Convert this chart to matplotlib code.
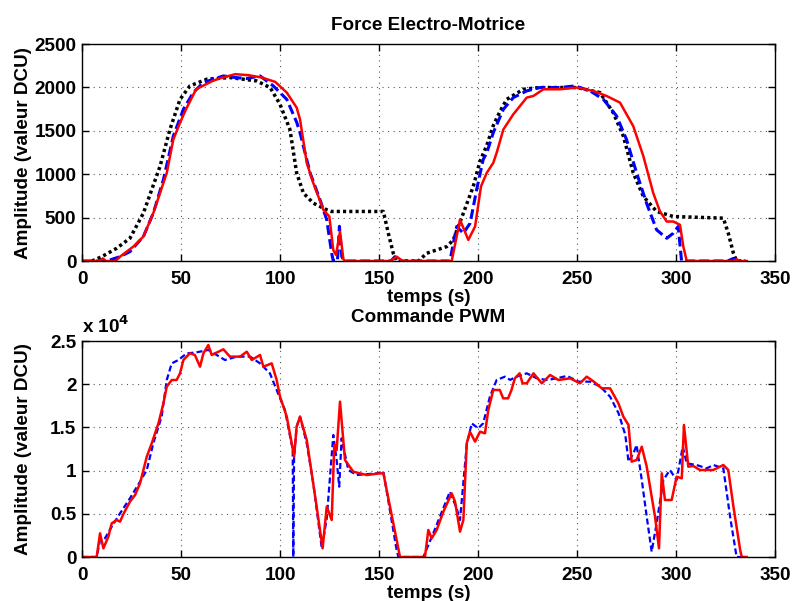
import matplotlib
matplotlib.use("Agg")
import matplotlib.pyplot as plt
from matplotlib.ticker import FuncFormatter

# --- Force electro-motrice (top) ---
fem_ref_t = [5, 10, 17.5, 24.2, 31, 35.2, 39.4, 44.4, 49.5, 54.5, 63, 74.7, 88.2, 95,
             100, 105, 108.4, 111.8, 116.8, 123.6, 126, 152.2, 154.7, 157.2, 159,
             170, 174, 184.2, 187.5, 192.6, 197.6, 201, 204.4, 207.7, 211, 214.5,
             222.9, 230.9, 249.8, 261.6, 268.3, 273.4, 278.4, 283.5, 290.2, 298.6,
             323.9, 326.4, 329, 330.6, 335]
fem_ref_y = [0, 50, 147, 262, 552, 822, 1091, 1516, 1863, 2018, 2095, 2114, 2075, 1999,
             1805, 1516, 1015, 783, 667, 590, 571, 571, 320, 89, 0,
             0, 89, 166, 243, 552, 860, 1150, 1330, 1560, 1720, 1863,
             1979, 1999, 1999, 1941, 1709, 1439, 1015, 744, 571, 513,
             494, 320, 89, 0, 0]

fem_est_t = [0, 12.5, 19.2, 24.2, 31, 36, 41.1, 46.1, 51.2, 56.2, 61.3, 71.4, 77, 83.2,
             89.9, 96.6, 103.4, 108.4, 110.1, 115.2, 120.2, 123.6, 126.1, 126.9,
             129, 130, 131.2, 132.5, 156, 158, 160, 185.8, 189.2, 192.6, 196, 199.3,
             202.6, 204.4, 207.7, 212.8, 217.8, 224.6, 231.3, 241.4, 249, 256.6,
             263.3, 270, 275, 280.1, 285.1, 290.2, 295.3, 298.6, 301.1, 302.8,
             326, 329, 331, 333]
fem_est_y = [0, 0, 50, 108, 282, 552, 937, 1439, 1748, 1941, 2057, 2133, 2115, 2103,
             2133, 2018, 1863, 1600, 1478, 1015, 706, 475, 89, 0,
             0, 400, 50, 0, 0, 50, 0, 0, 397, 320, 436, 822,
             1169, 1246, 1478, 1748, 1883, 1960, 1999, 1999, 2018, 1960,
             1863, 1670, 1400, 1015, 667, 359, 262, 320, 397, 0,
             0, 30, 0, 0]

fem_mes_t = [0, 9, 10.5, 12, 17, 19.2, 25.9, 31, 36, 42.8, 46.1, 49.5, 52.5, 57.6, 61,
             66, 69.3, 77.4, 84.2, 90.9, 97.6, 103.4, 108.4, 110.1, 113.5, 116.8,
             121.9, 124.9, 126.9, 128.3, 130.3, 132, 133, 155.6, 158.9, 162, 186.7,
             189.2, 190.9, 195.1, 198.5, 201.5, 204.4, 207.7, 209.4, 212.8, 217.8,
             224.6, 228, 233, 241.4, 249.8, 258.2, 264.9, 271.7, 278.4, 283.5,
             288.5, 291.9, 295.3, 298.6, 302, 303.7, 305.4, 329, 330.6, 332, 335.7]
fem_mes_y = [0, 0, 30, 0, 0, 50, 166, 282, 552, 1015, 1400, 1593, 1748, 1979, 2018,
             2075, 2103, 2153, 2141, 2114, 2064, 1941, 1767, 1632, 1131, 899,
             590, 513, 127, 69, 339, 20, 0, 0, 50, 0, 0,
             282, 475, 243, 397, 860, 1015, 1131, 1246, 1516, 1690,
             1883, 1902, 1979, 1979, 1999, 1960, 1902, 1825, 1554, 1208,
             783, 571, 455, 455, 417, 166, 0, 0, 20, 0, 0]

# --- Commande PWM (bottom) ---
pwm_est_t = [0, 7.4, 9.1, 11.6, 15, 19.2, 24.2, 29.3, 32.7, 36, 40.2, 42.8, 45.3, 48.7,
             52.9, 57, 63.8, 68, 72.2, 78.1, 84.9, 89.9, 94.9, 98.3, 102.5, 105.1,
             106.4, 106.7, 107.1, 108.4, 110.1, 113.5, 116.8, 121.1, 123.6, 126.9,
             128.6, 129.9, 131.1, 134.5, 138.7, 148.8, 152.2, 158.9, 159.8, 172.4,
             177.4, 185.8, 189.2, 190.9, 194.3, 196.8, 200.1, 202.6, 206, 209.4,
             213.6, 216.2, 219.5, 224.6, 229.7, 234.8, 239.8, 244.9, 250.8, 256.7,
             261.8, 266.7, 271, 274.4, 276, 278.5, 280.1, 282.7, 285.2, 287.7,
             290.2, 293.6, 296.9, 300.3, 303.4, 305.4, 310.4, 315.5, 318.9, 323.9,
             327.3, 330.6, 335]
pwm_est_y = [0, 0, 1968, 2163, 3510, 5053, 6790, 8719, 10069, 13157, 16243, 20488, 22413, 22801,
             23577, 23653, 23963, 23384, 22801, 23191, 23191, 22413, 21260, 19329, 17014, 13928,
             12500, 0, 11600, 15085, 16243, 13157, 8526, 1003, 4476, 14120,
             11227, 8140, 13736, 10069, 9490, 9683, 9876, 810, 0, 0,
             2743, 7562, 5633, 4283, 12963, 15472, 14893, 15472, 18555, 20488,
             20874, 20500, 20874, 21260, 20680, 20488, 20680, 20960, 20295, 20295,
             19716, 18555, 16629, 14120, 11034, 12000, 12963, 8913, 4667, 617,
             3897, 8913, 10069, 8913, 12770, 10840, 10648, 10262, 10648, 10262,
             4667, 0, 0]

pwm_mes_t = [0, 7.4, 9.1, 10.8, 13.3, 15, 17.5, 19.2, 20.9, 24.2, 26.8, 29.3, 32.7, 35.2,
             36.9, 38.6, 41.1, 42.8, 45.3, 47.8, 49.5, 51.2, 54.5, 57, 59.6, 61.3,
             63.8, 65.5, 71.4, 74.7, 79.8, 83.2, 85.7, 89.9, 91.6, 95.8, 98.3, 100,
             103.4, 105.9, 107.1, 108.4, 110.1, 113.5, 116, 118.5, 121.5, 123.6,
             126.1, 127.4, 128.6, 130.3, 132.8, 137, 143.8, 150.5, 152.2, 158.9,
             160.6, 173.2, 174.9, 176.6, 179.1, 182.5, 186.7, 188.4, 190.9, 192.6,
             194.3, 195.9, 198.5, 201, 203.5, 205.2, 207.7, 211, 212.7, 215.2,
             216.9, 218.6, 221, 222.5, 224.6, 228, 232.2, 236.4, 240.6, 246.5,
             251.5, 254.9, 258.5, 262.5, 266.7, 270.9, 273.4, 276, 277.6, 280.1,
             282.7, 285.2, 287.7, 289.4, 291.4, 292.8, 294.4, 297.8, 300.3, 302.9,
             304, 306.2, 308.7, 312.1, 318.8, 323.9, 326.4, 329, 332.4, 333.2, 335.7]
pwm_mes_y = [0, 0, 2743, 1003, 2357, 3897, 4283, 4090, 4977, 6404, 7176, 8526, 11613, 13157,
             14315, 15472, 17788, 19716, 20488, 20488, 21260, 22801, 23577, 23384, 22027, 23577,
             24537, 23384, 24039, 23191, 23191, 23762, 22801, 23384, 22027, 22413, 20488, 18555,
             16243, 13157, 11613, 15085, 16243, 13542, 9683, 5826, 1003, 5826,
             4283, 12963, 12384, 17979, 11227, 9876, 9490, 9683, 9683, 1968,
             0, 0, 3125, 2163, 3125, 5246, 7369, 6404, 2936, 4283,
             13157, 14507, 13350, 14507, 14315, 17014, 19329, 19329, 18365, 18365,
             19329, 20680, 21260, 20100, 20100, 21260, 20100, 21065, 20488, 20680,
             20100, 20874, 20295, 19523, 19523, 17788, 16243, 15278, 11034, 11227,
             12770, 10454, 6983, 4667, 1003, 9683, 6597, 6597, 9297, 9104,
             15278, 10454, 10538, 10069, 10069, 10648, 10069, 5826, 810, 0, 0]

FS = 13.6
plt.rcParams['font.family'] = ['Liberation Sans', 'DejaVu Sans']
plt.rcParams['font.weight'] = 'bold'
plt.rcParams['font.size'] = FS
plt.rcParams['mathtext.default'] = 'bf'


def style_axes(ax):
    ax.set_xlim(0, 350)
    ax.set_xticks(range(0, 351, 50))
    ax.tick_params(direction='in', top=True, right=True, length=5, width=1,
                   labelsize=FS)
    ax.tick_params(axis='x', pad=7)
    ax.tick_params(axis='y', pad=4)
    ax.grid(True, linestyle=(0, (1, 4)), color='0.35', linewidth=0.8)
    for s in ax.spines.values():
        s.set_linewidth(1)
    ax.set_xlabel('temps (s)', fontsize=FS, fontweight='bold', labelpad=1)
    ax.set_ylabel('Amplitude (valeur DCU)', fontsize=FS, fontweight='bold')
    ax.yaxis.set_label_coords(-0.072, 0.5)


fig = plt.figure(figsize=(7.94, 6.01), dpi=100)
ax1 = fig.add_axes([0.1033, 0.5657, 0.8728, 0.361])
ax2 = fig.add_axes([0.1033, 0.0732, 0.8728, 0.3594])

ax1.plot(fem_ref_t, fem_ref_y, color='black', lw=2.5, linestyle=(0, (0.9, 0.9)))
ax1.plot(fem_est_t, fem_est_y, color='blue', lw=2.2, linestyle=(0, (3.2, 1.4)))
ax1.plot(fem_mes_t, fem_mes_y, color='red', lw=1.8)
style_axes(ax1)
ax1.set_ylim(0, 2500)
ax1.set_yticks(range(0, 2501, 500))
ax1.set_title('Force Electro-Motrice', fontsize=FS, fontweight='bold', pad=10)

ax2.plot(pwm_est_t, pwm_est_y, color='blue', lw=1.6, linestyle=(0, (2.7, 1.4)))
ax2.plot(pwm_mes_t, pwm_mes_y, color='red', lw=1.8)
style_axes(ax2)
ax2.set_ylim(0, 25000)
ax2.set_yticks(range(0, 25001, 5000))
ax2.yaxis.set_major_formatter(FuncFormatter(lambda v, p: '%g' % (v / 1e4)))
ax2.set_title('Commande PWM', fontsize=FS, fontweight='bold', pad=14)
ax2.text(0, 1.035, r'x 10$^{4}$', transform=ax2.transAxes, ha='left', va='baseline',
         fontsize=FS, fontweight='bold')

fig.savefig('out.png', dpi=100)
